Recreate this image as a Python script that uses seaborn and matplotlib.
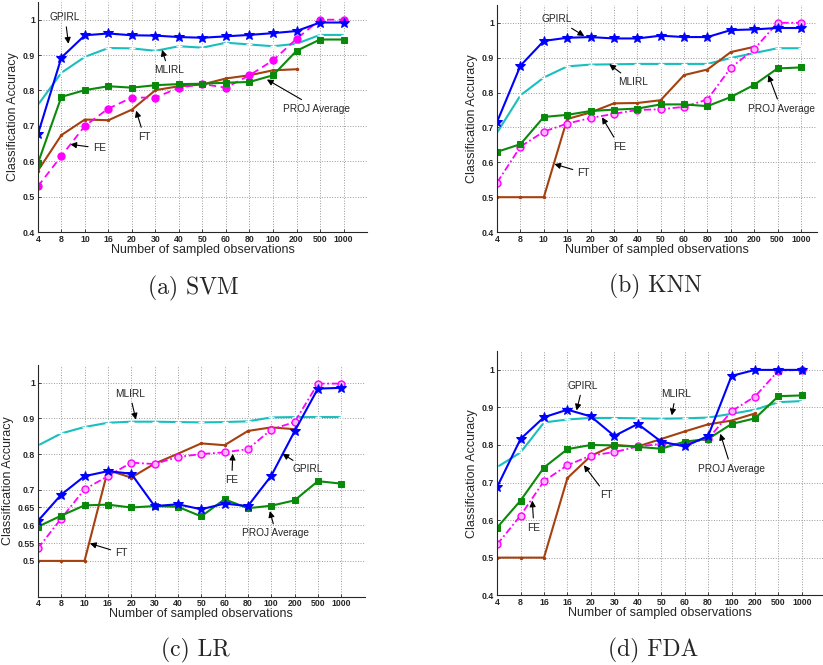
import matplotlib
matplotlib.use("Agg")
import matplotlib.pyplot as plt
import numpy as np
import seaborn as sns

sns.set_style("ticks")
plt.rcParams['font.family'] = ['Liberation Sans', 'DejaVu Sans']

# x tick labels (categorical sample sizes)
ticks_abc = ['4', '8', '10', '16', '20', '30', '40', '50', '60', '80', '100', '200', '500', '1000']
ticks_d = ['4', '8', '16', '16', '20', '30', '40', '50', '60', '80', '100', '200', '500', '1000']

# (a) SVM
svm_gpirl = [0.676, 0.893, 0.956, 0.961, 0.956, 0.955, 0.951, 0.949, 0.953, 0.957, 0.962, 0.968, 0.992, 0.992]
svm_mlirl = [0.759, 0.850, 0.895, 0.920, 0.919, 0.912, 0.925, 0.921, 0.935, 0.930, 0.925, 0.932, 0.957, 0.957]
svm_proj = [0.594, 0.782, 0.801, 0.812, 0.808, 0.815, 0.818, 0.819, 0.822, 0.824, 0.843, 0.912, 0.944, 0.944]
svm_ft = [0.573, 0.674, 0.718, 0.716, 0.746, 0.801, 0.812, 0.817, 0.834, 0.843, 0.857, 0.860]
svm_fe = [0.529, 0.615, 0.700, 0.749, 0.780, 0.780, 0.808, 0.818, 0.808, 0.843, 0.885, 0.946, 1.0, 1.0]

# (b) KNN
knn_gpirl = [0.716, 0.877, 0.948, 0.957, 0.959, 0.955, 0.955, 0.963, 0.959, 0.959, 0.979, 0.981, 0.985, 0.985]
knn_mlirl = [0.685, 0.792, 0.843, 0.875, 0.880, 0.881, 0.882, 0.882, 0.882, 0.882, 0.899, 0.913, 0.927, 0.927]
knn_proj = [0.630, 0.652, 0.730, 0.736, 0.747, 0.751, 0.754, 0.766, 0.766, 0.761, 0.787, 0.822, 0.869, 0.872]
knn_ft = [0.500, 0.500, 0.500, 0.724, 0.743, 0.769, 0.770, 0.778, 0.850, 0.866, 0.916, 0.931]
knn_fe = [0.542, 0.645, 0.688, 0.711, 0.727, 0.739, 0.750, 0.752, 0.759, 0.780, 0.871, 0.924, 1.0, 1.0]

# (c) LR
lr_gpirl = [0.612, 0.686, 0.738, 0.752, 0.745, 0.654, 0.659, 0.645, 0.661, 0.654, 0.739, 0.864, 0.984, 0.986]
lr_mlirl = [0.824, 0.858, 0.876, 0.888, 0.891, 0.891, 0.890, 0.889, 0.890, 0.892, 0.903, 0.904, 0.904, 0.904]
lr_proj = [0.596, 0.627, 0.656, 0.658, 0.650, 0.654, 0.652, 0.625, 0.673, 0.648, 0.655, 0.670, 0.724, 0.717]
lr_ft = [0.500, 0.500, 0.500, 0.755, 0.734, 0.773, 0.801, 0.830, 0.825, 0.865, 0.875, 0.870]
lr_fe = [0.535, 0.619, 0.701, 0.738, 0.776, 0.772, 0.792, 0.800, 0.805, 0.814, 0.869, 0.890, 0.998, 0.998]

# (d) FDA
fda_gpirl = [0.688, 0.816, 0.874, 0.894, 0.876, 0.824, 0.856, 0.809, 0.796, 0.824, 0.984, 1.0, 1.0, 1.0]
fda_mlirl = [0.741, 0.780, 0.860, 0.868, 0.872, 0.872, 0.871, 0.870, 0.871, 0.873, 0.883, 0.894, 0.914, 0.917]
fda_proj = [0.580, 0.652, 0.740, 0.789, 0.800, 0.799, 0.795, 0.790, 0.809, 0.816, 0.856, 0.871, 0.930, 0.932]
fda_ft = [0.500, 0.500, 0.500, 0.712, 0.771, 0.800, 0.796, 0.816, 0.836, 0.855, 0.865, 0.884]
fda_fe = [0.535, 0.612, 0.704, 0.746, 0.772, 0.781, 0.796, 0.803, 0.803, 0.816, 0.890, 0.929, 0.998, 1.0]

BLUE = '#0000ff'
CYAN = '#19bfbf'
GREEN = '#0a8a0a'
BROWN = '#a5400f'
MAGENTA = '#ff00ff'


def draw_panel(ax, ticks, gpirl, mlirl, proj, ft, fe, fe_style, fe_fill, yticks, ylabels, xmax):
    idx = np.arange(len(ticks))
    sns.lineplot(x=idx[:len(mlirl)], y=mlirl, ax=ax, color=CYAN, marker='+', markersize=4,
                 markeredgewidth=1, linewidth=1.5, sort=False)
    sns.lineplot(x=idx[:len(ft)], y=ft, ax=ax, color=BROWN, marker='o', markersize=2.5,
                 markeredgewidth=0, linewidth=1.5, sort=False)
    sns.lineplot(x=idx[:len(fe)], y=fe, ax=ax, color=MAGENTA, marker='o', markersize=5,
                 markerfacecolor=fe_fill, markeredgecolor=MAGENTA, markeredgewidth=1,
                 linewidth=1.3, linestyle=fe_style, sort=False)
    sns.lineplot(x=idx[:len(proj)], y=proj, ax=ax, color=GREEN, marker='s', markersize=4.5,
                 markeredgecolor=GREEN, linewidth=1.5, sort=False)
    sns.lineplot(x=idx[:len(gpirl)], y=gpirl, ax=ax, color=BLUE, marker='*', markersize=7.5,
                 markeredgecolor=BLUE, linewidth=1.5, sort=False)

    ax.set_xlim(0, xmax)
    ax.set_ylim(0.4, 1.05)
    ax.set_xticks(idx)
    ax.set_xticklabels(ticks, fontsize=6.3, fontweight='bold')
    ax.set_yticks(yticks)
    ax.set_yticklabels(ylabels, fontsize=6.3, fontweight='bold')
    ax.tick_params(direction='in', length=2, width=0.6, pad=2)
    ax.grid(True, linestyle=':', color='#9a9a9a', linewidth=0.7)
    sns.despine(ax=ax)
    for s in ['left', 'bottom']:
        ax.spines[s].set_linewidth(0.8)
    ax.set_xlabel('Number of sampled observations', fontsize=9, labelpad=0)
    ax.set_ylabel('Classification Accuracy', fontsize=9, labelpad=3)


def note(ax, text, tip, pos):
    ax.annotate(text, xy=tip, xytext=pos, fontsize=7.3, ha='center', va='center',
                arrowprops=dict(arrowstyle='-|>', color='k', lw=0.8, mutation_scale=9,
                                shrinkA=1, shrinkB=0))


fig = plt.figure(figsize=(8.23, 6.65), dpi=100)

yt = [0.4, 0.5, 0.6, 0.7, 0.8, 0.9, 1.0]
yl = ['0.4', '0.5', '0.6', '0.7', '0.8', '0.9', '1']
yt_c = [0.5, 0.55, 0.6, 0.65, 0.7, 0.8, 0.9, 1.0]
yl_c = ['0.5', '0.55', '0.6', '0.65', '0.7', '0.8', '0.9', '1']

ax_a = fig.add_axes([0.046, 0.651, 0.400, 0.346])
draw_panel(ax_a, ticks_abc, svm_gpirl, svm_mlirl, svm_proj, svm_ft, svm_fe,
           (0, (4, 2.5)), MAGENTA, yt, yl, 14)
note(ax_a, 'GPIRL', (1.3, 0.932), (1.16, 1.007))
note(ax_a, 'MLIRL', (5.28, 0.915), (5.56, 0.857))
note(ax_a, 'PROJ Average', (9.74, 0.831), (11.87, 0.749))
note(ax_a, 'FT', (4.18, 0.743), (4.52, 0.669))
note(ax_a, 'FE', (1.38, 0.648), (2.61, 0.637))

ax_b = fig.add_axes([0.604, 0.651, 0.389, 0.341])
draw_panel(ax_b, ticks_abc, knn_gpirl, knn_mlirl, knn_proj, knn_ft, knn_fe,
           (0, (4, 1.5, 1, 1.5)), '#ffb3ff', yt, yl, 13.7)
note(ax_b, 'GPIRL', (3.73, 0.962), (2.56, 1.01))
note(ax_b, 'MLIRL', (4.8, 0.881), (5.81, 0.830))
note(ax_b, 'PROJ Average', (11.61, 0.850), (12.15, 0.754))
note(ax_b, 'FE', (4.49, 0.729), (5.24, 0.645))
note(ax_b, 'FT', (2.45, 0.595), (3.70, 0.570))

ax_c = fig.add_axes([0.046, 0.103, 0.397, 0.348])
draw_panel(ax_c, ticks_abc, lr_gpirl, lr_mlirl, lr_proj, lr_ft, lr_fe,
           (0, (4, 1.5, 1, 1.5)), '#ffb3ff', yt_c, yl_c, 14)
note(ax_c, 'MLIRL', (4.2, 0.897), (3.94, 0.970))
note(ax_c, 'FE', (8.35, 0.801), (8.31, 0.727))
note(ax_c, 'GPIRL', (10.48, 0.801), (11.55, 0.757))
note(ax_c, 'PROJ Average', (9.94, 0.640), (10.2, 0.577))
note(ax_c, 'FT', (2.23, 0.549), (3.58, 0.522))

ax_d = fig.add_axes([0.604, 0.105, 0.396, 0.367])
draw_panel(ax_d, ticks_d, fda_gpirl, fda_mlirl, fda_proj, fda_ft, fda_fe,
           (0, (4, 1.5, 1, 1.5)), '#ffb3ff', yt, yl, 13.9)
note(ax_d, 'GPIRL', (3.39, 0.892), (3.65, 0.958))
note(ax_d, 'MLIRL', (7.45, 0.879), (7.62, 0.936))
note(ax_d, 'PROJ Average', (9.52, 0.830), (9.99, 0.737))
note(ax_d, 'FT', (3.7, 0.746), (4.67, 0.666))
note(ax_d, 'FE', (1.5, 0.652), (1.57, 0.580))

cap = dict(fontsize=17, family='cmr10', ha='center', va='center')
fig.text(193 / 823, 1 - 288 / 665, '(a) SVM', **cap)
fig.text(655 / 823, 1 - 286 / 665, '(b) KNN', **cap)
fig.text(195 / 823, 1 - 650 / 665, '(c) LR', **cap)
fig.text(653 / 823, 1 - 650 / 665, '(d) FDA', **cap)

fig.savefig('out.png', dpi=100)
